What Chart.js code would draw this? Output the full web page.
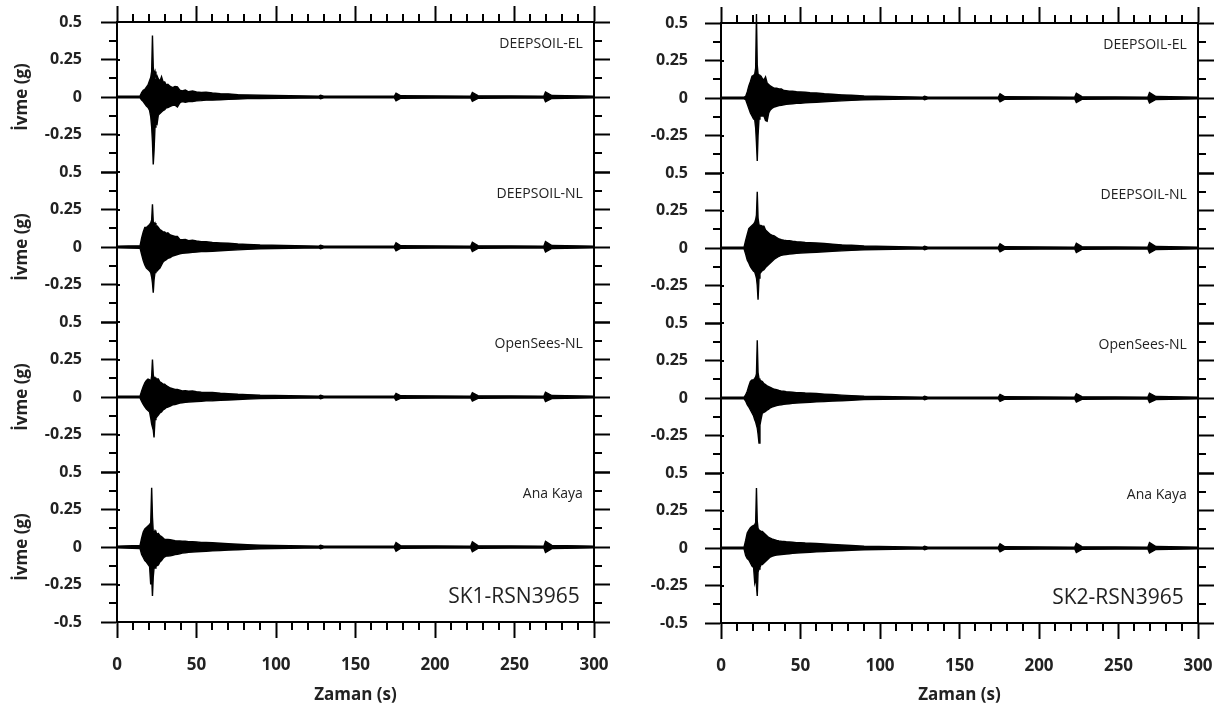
<!DOCTYPE html>
<html lang="tr">
<head>
<meta charset="UTF-8">
<title>SK1 / SK2 - RSN3965 ivme kayitlari</title>
<script src="https://cdn.jsdelivr.net/npm/chart.js"></script>
<style>
  body { margin: 0; background: #fff; }
  .wrap { display: flex; width: 1225px; height: 706px; }
</style>
</head>
<body>
<div class="wrap">
  <canvas id="sk1" width="612" height="706"></canvas>
  <canvas id="sk2" width="613" height="706"></canvas>
</div>
<script>
const zaman = [
  0, 14.5, 15.5, 16.5, 17.5, 18.5, 19.5, 20.5, 21.2, 21.8,
  22.3, 22.8, 23.3, 23.9, 24.5, 25.2, 26, 27, 28, 29,
  30, 31, 32, 33.5, 35, 36.5, 38, 39.5, 41, 43,
  45, 47.5, 50, 53, 56, 60, 65, 70, 76, 82,
  90, 127, 128, 130, 174.5, 175.5, 178.5, 222.5, 223.5, 227,
  268.5, 269.5, 273.5, 300
];

const traceNames = ['DEEPSOIL-EL', 'DEEPSOIL-NL', 'OpenSees-NL', 'Ana Kaya'];
const xTicks = [0, 50, 100, 150, 200, 250, 300];
const yTicks = [-0.5, -0.25, 0, 0.25, 0.5];

// SK1 - upper / lower envelope (g)
const sk1ElUp = [
  .006, .006, .03, .045, .05, .065, .08, .11, .13, .17,
  .41, .2, .15, .17, .12, .14, .12, .105, .135, .1,
  .1, .08, .085, .07, .062, .07, .068, .045, .04, .046,
  .035, .04, .033, .03, .032, .027, .022, .021, .016, .014,
  .012, .006, .011, .006, .006, .026, .008, .006, .03, .009,
  .006, .034, .01, .006
];
const sk1ElLo = [
  -.006, -.006, -.02, -.03, -.045, -.06, -.07, -.09, -.13, -.2,
  -.3, -.45, -.36, -.2, -.17, -.18, -.12, -.11, -.1, -.09,
  -.085, -.072, -.07, -.062, -.055, -.055, -.066, -.04, -.03, -.035,
  -.03, -.03, -.026, -.024, -.021, -.021, -.018, -.016, -.013, -.011,
  -.011, -.006, -.011, -.006, -.006, -.025, -.008, -.006, -.028, -.009,
  -.006, -.032, -.01, -.006
];
const sk1NlUp = [
  .006, .008, .06, .1, .13, .13, .14, .15, .16, .18,
  .285, .17, .15, .16, .14, .14, .13, .115, .11, .1,
  .1, .09, .095, .08, .075, .07, .07, .05, .048, .05,
  .042, .045, .04, .036, .035, .03, .027, .025, .02, .017,
  .013, .006, .012, .006, .006, .028, .008, .006, .032, .009,
  .006, .036, .01, .006
];
const sk1NlLo = [
  -.006, -.008, -.05, -.09, -.12, -.14, -.15, -.16, -.17, -.2,
  -.24, -.305, -.22, -.17, -.16, -.16, -.15, -.14, -.12, -.1,
  -.09, -.085, -.075, -.07, -.06, -.055, -.05, -.045, -.042, -.04,
  -.038, -.036, -.033, -.03, -.03, -.028, -.025, -.022, -.019, -.016,
  -.012, -.006, -.012, -.006, -.006, -.026, -.008, -.006, -.03, -.009,
  -.006, -.034, -.01, -.006
];
const sk1OsUp = [
  .006, .006, .04, .07, .095, .11, .12, .115, .1, .14,
  .25, .15, .12, .13, .12, .12, .12, .1, .095, .085,
  .085, .075, .07, .06, .055, .05, .05, .045, .04, .042,
  .038, .04, .035, .032, .03, .03, .025, .022, .018, .016,
  .012, .006, .011, .006, .006, .024, .008, .006, .028, .009,
  .006, .032, .01, .006
];
const sk1OsLo = [
  -.006, -.006, -.03, -.05, -.065, -.08, -.09, -.1, -.14, -.18,
  -.2, -.22, -.27, -.15, -.14, -.13, -.12, -.105, -.1, -.085,
  -.08, -.07, -.068, -.06, -.052, -.05, -.046, -.04, -.038, -.036,
  -.034, -.032, -.03, -.028, -.026, -.025, -.022, -.02, -.017, -.014,
  -.011, -.006, -.011, -.006, -.006, -.023, -.008, -.006, -.027, -.009,
  -.006, -.03, -.01, -.006
];
const sk1RockUp = [
  .006, .01, .06, .1, .12, .13, .14, .15, .16, .395,
  .2, .1, .095, .11, .1, .085, .09, .075, .07, .06,
  .05, .05, .05, .048, .045, .042, .04, .04, .038, .038,
  .036, .035, .034, .03, .03, .028, .025, .022, .018, .015,
  .012, .006, .012, .006, .006, .03, .008, .006, .034, .009,
  .006, .038, .011, .006
];
const sk1RockLo = [
  -.006, -.01, -.05, -.07, -.09, -.1, -.115, -.13, -.25, -.2,
  -.327, -.2, -.14, -.14, -.13, -.125, -.12, -.1, -.09, -.075,
  -.065, -.06, -.06, -.058, -.055, -.05, -.048, -.045, -.04, -.038,
  -.035, -.034, -.032, -.03, -.028, -.026, -.024, -.021, -.018, -.015,
  -.012, -.006, -.012, -.006, -.006, -.028, -.008, -.006, -.032, -.009,
  -.006, -.036, -.011, -.006
];

// SK2 - upper / lower envelope (g)
const sk2ElUp = [
  .006, .006, .01, .04, .08, .11, .145, .15, .16, .2,
  .56, .22, .16, .155, .15, .145, .13, .12, .14, .1,
  .09, .08, .075, .065, .065, .06, .06, .05, .048, .045,
  .045, .042, .04, .038, .035, .033, .028, .025, .021, .018,
  .013, .006, .012, .006, .006, .028, .008, .006, .032, .009,
  .006, .036, .01, .006
];
const sk2ElLo = [
  -.006, -.006, -.01, -.04, -.07, -.1, -.12, -.14, -.145, -.2,
  -.3, -.42, -.25, -.14, -.12, -.12, -.12, -.12, -.15, -.155,
  -.1, -.08, -.07, -.06, -.055, -.05, -.048, -.045, -.042, -.04,
  -.038, -.036, -.035, -.032, -.03, -.028, -.025, -.022, -.019, -.016,
  -.012, -.006, -.012, -.006, -.006, -.026, -.008, -.006, -.03, -.009,
  -.006, -.034, -.01, -.006
];
const sk2NlUp = [
  .006, .006, .05, .09, .13, .14, .15, .16, .17, .19,
  .22, .375, .2, .155, .15, .15, .145, .145, .12, .11,
  .1, .09, .085, .08, .07, .06, .055, .052, .05, .048,
  .045, .042, .04, .037, .035, .033, .03, .026, .021, .018,
  .013, .006, .012, .006, .006, .028, .008, .006, .032, .009,
  .006, .036, .01, .006
];
const sk2NlLo = [
  -.006, -.006, -.04, -.08, -.1, -.125, -.14, -.155, -.16, -.18,
  -.2, -.25, -.345, -.2, -.17, -.16, -.15, -.145, -.13, -.12,
  -.11, -.1, -.09, -.075, -.065, -.055, -.048, -.045, -.043, -.04,
  -.038, -.036, -.034, -.032, -.03, -.028, -.025, -.022, -.019, -.016,
  -.012, -.006, -.012, -.006, -.006, -.026, -.008, -.006, -.03, -.009,
  -.006, -.034, -.01, -.006
];
const sk2OsUp = [
  .006, .006, .02, .045, .08, .11, .12, .12, .13, .14,
  .16, .385, .17, .13, .12, .115, .11, .095, .09, .08,
  .075, .07, .065, .058, .055, .05, .046, .045, .042, .04,
  .038, .036, .035, .033, .032, .03, .026, .023, .019, .016,
  .012, .006, .011, .006, .006, .024, .008, .006, .028, .009,
  .006, .032, .01, .006
];
const sk2OsLo = [
  -.006, -.006, -.02, -.045, -.06, -.08, -.1, -.12, -.145, -.16,
  -.18, -.2, -.24, -.3, -.18, -.14, -.1, -.095, -.09, -.08,
  -.075, -.065, -.06, -.055, -.05, -.047, -.045, -.042, -.04, -.038,
  -.036, -.034, -.032, -.03, -.028, -.026, -.024, -.021, -.018, -.015,
  -.011, -.006, -.011, -.006, -.006, -.023, -.008, -.006, -.027, -.009,
  -.006, -.03, -.01, -.006
];
const sk2RockUp = [
  .006, .006, .05, .1, .12, .135, .145, .15, .155, .17,
  .4, .18, .13, .12, .115, .11, .11, .1, .09, .08,
  .07, .065, .06, .055, .05, .047, .045, .044, .042, .04,
  .038, .036, .035, .033, .032, .03, .027, .024, .02, .017,
  .012, .006, .012, .006, .006, .028, .008, .006, .032, .009,
  .006, .036, .01, .006
];
const sk2RockLo = [
  -.006, -.006, -.05, -.07, -.08, -.1, -.12, -.13, -.23, -.2,
  -.25, -.32, -.16, -.14, -.13, -.11, -.11, -.1, -.09, -.08,
  -.07, -.06, -.055, -.05, -.047, -.045, -.044, -.042, -.04, -.038,
  -.036, -.034, -.032, -.03, -.028, -.026, -.024, -.021, -.018, -.015,
  -.012, -.006, -.012, -.006, -.006, -.026, -.008, -.006, -.03, -.009,
  -.006, -.034, -.01, -.006
];

const FONT = '"Open Sans", "Liberation Sans", sans-serif';
const TEXT = '#222';
Chart.defaults.font.family = FONT;

const bandIds = ['y1', 'y2', 'y3', 'y4'];

// minor ticks + short inward stubs of the major y ticks
const frameTicks = {
  id: 'frameTicks',
  afterDraw(chart) {
    const { ctx, chartArea: a, scales } = chart;
    ctx.save();
    ctx.strokeStyle = '#000';
    ctx.lineWidth = 2;
    ctx.beginPath();
    for (let t = 10; t < 300; t += 10) {
      if (t % 50 === 0) continue;
      const px = Math.round(scales.x.getPixelForValue(t));
      ctx.moveTo(px, a.bottom); ctx.lineTo(px, a.bottom + 8);
      ctx.moveTo(px, a.top); ctx.lineTo(px, a.top - 8);
    }
    bandIds.forEach(id => {
      const s = scales[id];
      [-0.375, -0.125, 0.125, 0.375].forEach(v => {
        const py = Math.round(s.getPixelForValue(v));
        ctx.moveTo(a.left, py); ctx.lineTo(a.left - 8, py);
        ctx.moveTo(a.right, py); ctx.lineTo(a.right + 8, py);
      });
      yTicks.forEach(v => {
        const py = Math.round(s.getPixelForValue(v));
        ctx.moveTo(a.left, py); ctx.lineTo(a.left + 3, py);
      });
    });
    ctx.stroke();
    ctx.restore();
  }
};

// trace names and record name
const bandText = {
  id: 'bandText',
  afterDraw(chart, args, opts) {
    const { ctx, scales } = chart;
    ctx.save();
    ctx.fillStyle = TEXT;
    ctx.textAlign = 'right';
    ctx.textBaseline = 'middle';
    ctx.font = '14px ' + FONT;
    bandIds.forEach((id, k) => {
      ctx.fillText(traceNames[k], scales.x.getPixelForValue(293), scales[id].getPixelForValue(0.35));
    });
    ctx.font = '21px ' + FONT;
    ctx.fillText(opts.record, scales.x.getPixelForValue(291), scales.y4.getPixelForValue(-0.333));
    ctx.restore();
  }
};

function makePanel(canvasId, record, traces, box) {
  const datasets = [];
  traces.forEach((tr, k) => {
    const axis = bandIds[k];
    datasets.push({
      data: zaman.map((t, i) => ({ x: t, y: tr[0][i] })),
      yAxisID: axis, fill: false, clip: false,
      borderColor: '#000', borderWidth: 1.4, pointRadius: 0
    });
    datasets.push({
      data: zaman.map((t, i) => ({ x: t, y: tr[1][i] })),
      yAxisID: axis, fill: '-1', clip: false,
      borderColor: '#000', backgroundColor: '#000', borderWidth: 1.4, pointRadius: 0
    });
  });

  const gridOpts = { drawOnChartArea: false, tickLength: 16, tickWidth: 2, tickColor: '#000' };
  const borderOpts = { color: '#000', width: 2 };
  const setXTicks = s => { s.ticks = xTicks.map(v => ({ value: v })); };
  const setYTicks = s => { s.ticks = yTicks.map(v => ({ value: v })); };
  // fixed box sizes, and no extra room asked for the end labels
  const fixH = h => s => { s.height = h; s.paddingLeft = 0; s.paddingRight = 0; };
  const fixW = w => s => { s.width = w; s.paddingTop = 0; s.paddingBottom = 0; };

  const scales = {
    x: {
      type: 'linear', position: 'bottom', min: 0, max: 300,
      afterBuildTicks: setXTicks,
      ticks: { font: { size: 17, weight: 'bold' }, color: TEXT, padding: 17, maxRotation: 0, autoSkip: false },
      grid: gridOpts, border: borderOpts,
      title: { display: true, text: 'Zaman (s)', color: TEXT,
               font: { size: 17, weight: 'bold' }, padding: { top: 0, bottom: 1 } },
      afterFit: fixH(box.bottom)
    },
    xt: {
      type: 'linear', position: 'top', min: 0, max: 300,
      afterBuildTicks: setXTicks,
      ticks: { display: false },
      grid: gridOpts, border: borderOpts,
      afterFit: fixH(box.top)
    }
  };

  bandIds.forEach((id, k) => {
    const last = k === bandIds.length - 1;
    scales[id] = {
      type: 'linear', position: 'left', stack: 'bands', stackWeight: 1, weight: 4 - k,
      min: -0.5, max: 0.5,
      afterBuildTicks: setYTicks,
      ticks: {
        font: { size: 16, weight: 'bold' }, color: TEXT, padding: box.labelPad, autoSkip: false,
        callback: v => (v === -0.5 && !last) ? '' : String(v)
      },
      grid: gridOpts, border: borderOpts,
      title: { display: box.yTitle, text: 'İvme (g)', color: TEXT,
               font: { size: 17, weight: 'bold' }, padding: { top: 12, bottom: 0 } },
      afterFit: fixW(box.left)
    };
    scales['r' + (k + 1)] = {
      type: 'linear', position: 'right', stack: 'rbands', stackWeight: 1,
      min: -0.5, max: 0.5,
      afterBuildTicks: setYTicks,
      ticks: { display: false },
      grid: gridOpts, border: borderOpts,
      afterFit: fixW(box.right)
    };
  });

  return new Chart(document.getElementById(canvasId), {
    type: 'line',
    data: { datasets },
    options: {
      responsive: false,
      animation: false,
      events: [],
      layout: { padding: 0 },
      plugins: {
        legend: { display: false },
        tooltip: { enabled: false },
        bandText: { record }
      },
      scales
    },
    plugins: [frameTicks, bandText]
  });
}

makePanel('sk1', 'SK1-RSN3965',
  [[sk1ElUp, sk1ElLo], [sk1NlUp, sk1NlLo], [sk1OsUp, sk1OsLo], [sk1RockUp, sk1RockLo]],
  { left: 117, right: 18, top: 22, bottom: 84, labelPad: 19, yTitle: true });

makePanel('sk2', 'SK2-RSN3965',
  [[sk2ElUp, sk2ElLo], [sk2NlUp, sk2NlLo], [sk2OsUp, sk2OsLo], [sk2RockUp, sk2RockLo]],
  { left: 109, right: 27, top: 23, bottom: 83, labelPad: 17, yTitle: false });
</script>
</body>
</html>
